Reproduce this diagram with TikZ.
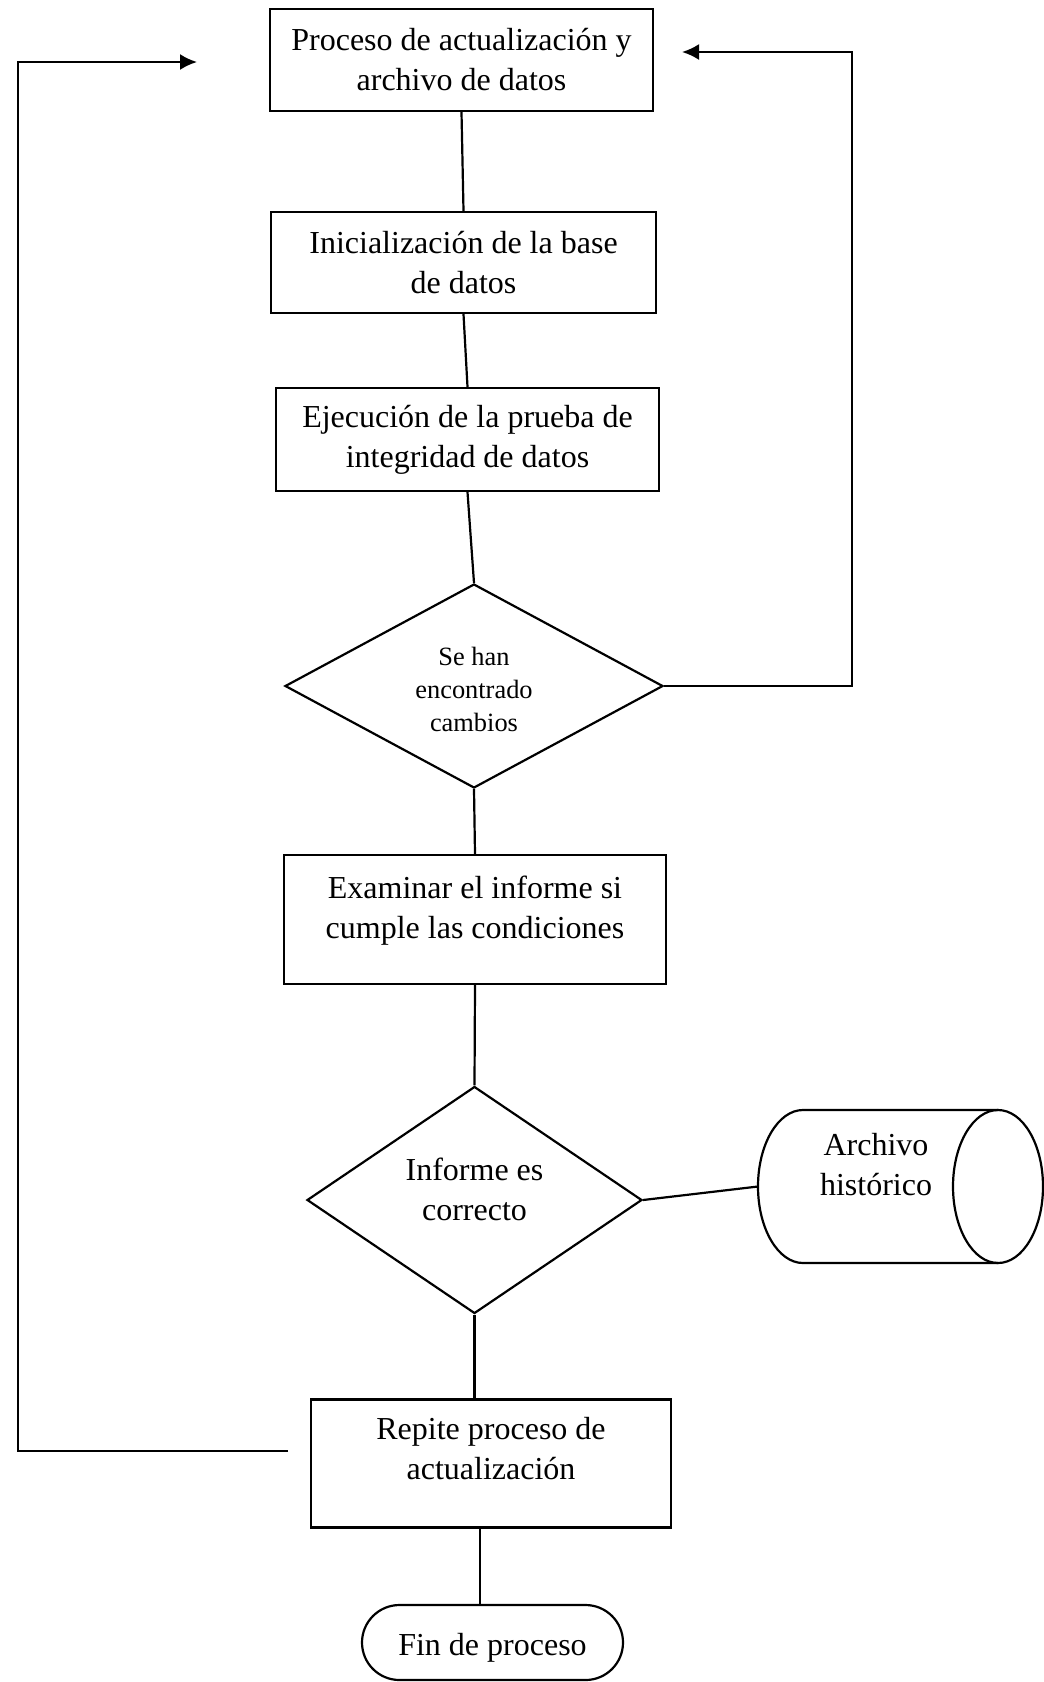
\documentclass[tikz,border=0pt]{standalone}
\usepackage{fontspec}
\setmainfont{Liberation Serif}
\usetikzlibrary{shapes.geometric,shapes.misc,arrows.meta}
\begin{document}
\begin{tikzpicture}[x=0.5pt,y=-0.5pt,
  every node/.style={font=\fontsize{16}{20}\selectfont, align=center, line width=1.1pt, inner sep=0pt},
  procbox/.style={draw, rectangle},
  decbox/.style={draw, diamond},
  termbox/.style={draw, rounded rectangle},
  conn/.style={line width=1.1pt},
  arr/.style={line width=1.1pt, -{Latex[length=8.5pt,width=8pt]}}
]
\useasboundingbox (0,0) rectangle (1044,1682);

\node[procbox, minimum width=191.5pt, minimum height=51pt] (b1) at (461.5,60) {Proceso de actualización y\\archivo de datos};
\node[procbox, minimum width=192.5pt, minimum height=50.5pt] (b2) at (463.5,262.5) {Inicialización de la base\\de datos};
\node[procbox, minimum width=191.5pt, minimum height=51.5pt] (b3) at (467.5,439.5) {Ejecución de la prueba de\\integridad de datos};
\node[decbox, minimum width=189pt, minimum height=102pt] (d1) at (474,686) {};
\node[font=\fontsize{13.2}{16.4}\selectfont] (d1t) at ([yshift=-1.6pt]d1.center) {Se han\\encontrado\\cambios};
\node[procbox, minimum width=191pt, minimum height=64.5pt] (b4) at (475,919.5) {};
\node (b4t) at ([yshift=4.3pt]b4.center) {Examinar el informe si\\cumple las condiciones};
\node[decbox, minimum width=167.5pt, minimum height=113.5pt] (d2) at (474.5,1200) {};
\node (d2t) at ([yshift=5.5pt]d2.center) {Informe es\\correcto};

% storage (cylinder) drawn by hand around a frame node
\node[minimum width=142.5pt, minimum height=76.5pt, outer sep=0pt] (arch) at (900.5,1186.5) {};
\draw[conn, line join=round] (998,1110) -- (803,1110)
   arc[start angle=90, end angle=270, x radius=22.5pt, y radius=38.25pt] -- (998,1263);
\draw[conn] (998,1186.5) ellipse [x radius=22.5pt, y radius=38.25pt];
\node (archtxt) at (876,1165) {Archivo\\histórico};

\node[procbox, minimum width=180pt, minimum height=64pt] (b5) at (491,1463.5) {};
\node (b5t) at ([yshift=7.5pt]b5.center) {Repite proceso de\\actualización};
\node[termbox, minimum width=130.5pt, minimum height=37.5pt] (fin) at (492.5,1642.5) {};
\node (fint) at ([yshift=-2.5pt]fin.center) {Fin de proceso};

\draw[conn] (b1.south) -- (b2.north);
\draw[conn] (b2.south) -- (b3.north);
\draw[conn] (b3.south) -- (d1.north);
\draw[conn] (d1.south) -- (b4.north);
\draw[conn] (b4.south) -- (d2.north);
\draw[conn] (d2.south) -- (d2.south |- b5.north);
\draw[conn] ([xshift=-5.5pt]b5.south) -- ([xshift=-5.5pt]b5.south |- fin.north);
\draw[conn] (d2.east) -- (arch.west);

\coordinate (rtop) at (852,52);
\coordinate (rtip) at (682,52);
\draw[arr] (d1.east) -| (rtop) -- (rtip);

\coordinate (lbot) at (288,1451);
\coordinate (ltop) at (18,62);
\coordinate (ltip) at (197,62);
\draw[arr] (lbot) -| (ltop) -- (ltip);
\end{tikzpicture}
\end{document}
